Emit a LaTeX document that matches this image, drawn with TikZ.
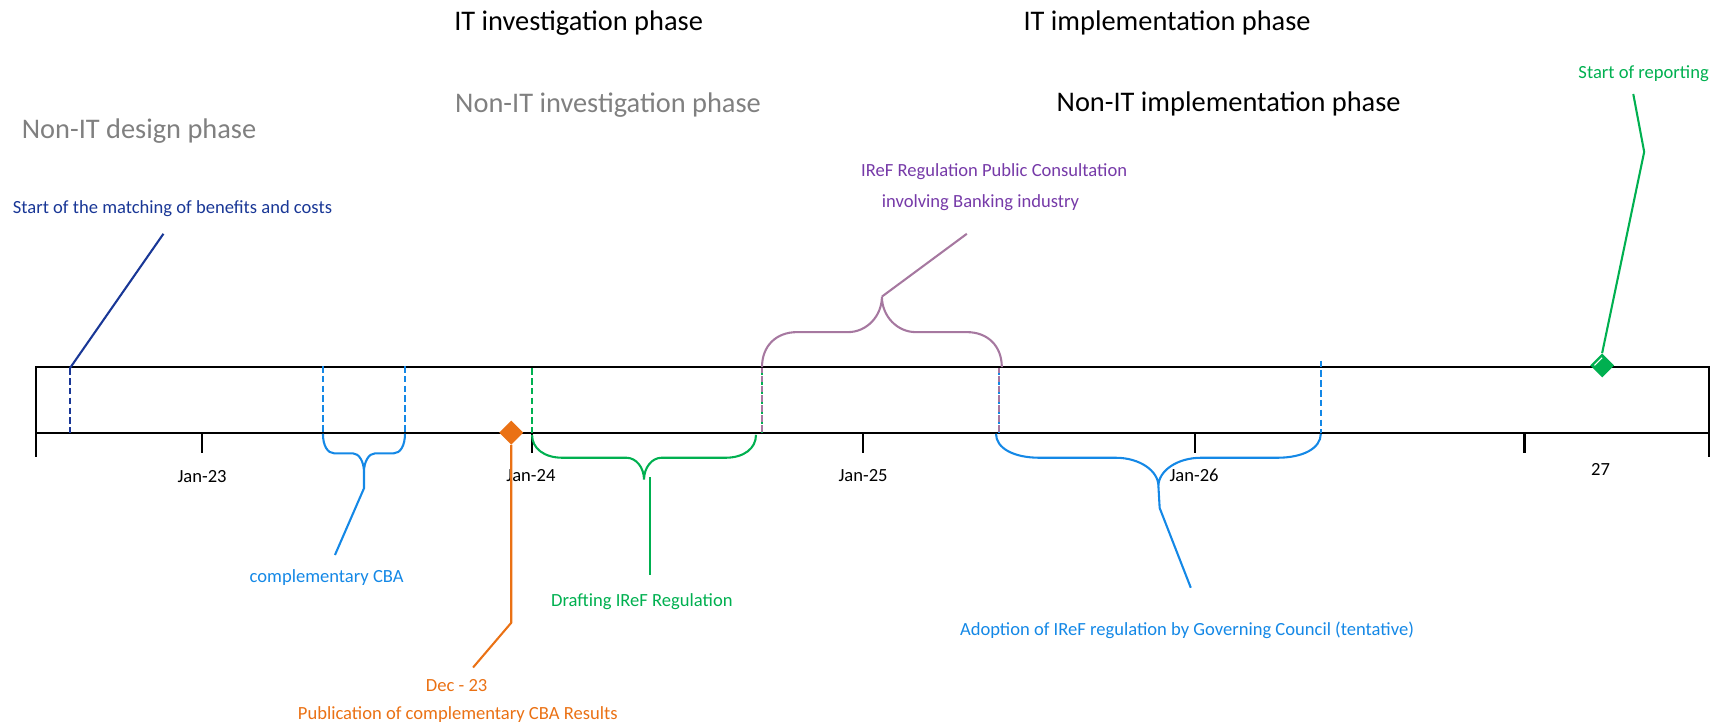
\documentclass[tikz,border=0pt]{standalone}
\usepackage{fontspec}
\setmainfont{Carlito}
\usetikzlibrary{shapes.geometric}
\definecolor{navyc}{RGB}{25,55,150}
\definecolor{bluec}{RGB}{20,136,230}
\definecolor{greenc}{RGB}{0,176,80}
\definecolor{orangec}{RGB}{234,113,20}
\definecolor{purplec}{RGB}{118,58,168}
\definecolor{mauvec}{RGB}{166,120,160}
\definecolor{grayc}{RGB}{128,128,128}
% brace: color, xL, xR, y0, yh, yt, r, r2
\newcommand\mybrace[8]{%
\draw[conn,#1] (#2,#4) .. controls (#2,{#4+0.6*(#5-#4)}) and ({#2+0.4*#7},#5) .. ({#2+#7},#5)
 -- ({(#2+#3)/2-#8},#5) .. controls ({(#2+#3)/2-0.45*#8},#5) and ({(#2+#3)/2},{#5+0.45*(#6-#5)}) .. ({(#2+#3)/2},#6)
 .. controls ({(#2+#3)/2},{#5+0.45*(#6-#5)}) and ({(#2+#3)/2+0.45*#8},#5) .. ({(#2+#3)/2+#8},#5)
 -- ({#3-#7},#5) .. controls ({#3-0.4*#7},#5) and (#3,{#4+0.6*(#5-#4)}) .. (#3,#4);}
\begin{document}
\begin{tikzpicture}[x=1pt,y=-1pt,
  axis/.style={line width=2pt,black},
  conn/.style={line width=1.9pt},
  dashline/.style={line width=2.3pt,dash pattern=on 6pt off 3pt},
  lbl/.style={inner sep=0pt,anchor=base,font=\fontsize{17}{20}\selectfont},
  hdr/.style={inner sep=0pt,anchor=base west,font=\fontsize{26}{30}\selectfont},
  milestone/.style={diamond,aspect=1,inner sep=0pt,minimum width=22pt,minimum height=22pt}]
\useasboundingbox (0,0) rectangle (1568,665);
% headers
\node[hdr] (h1) at (415.6,28) {IT investigation phase};
\node[hdr,text=grayc] (h2) at (416.5,103) {Non-IT investigation phase};
\node[hdr] (h3) at (936.7,28) {IT implementation phase};
\node[hdr] (h4) at (967,102) {Non-IT implementation phase};
\node[hdr,text=grayc] (h5) at (19.8,127) {Non-IT design phase};
% labels
\node[lbl,anchor=base west,text=navyc] (t1) at (11.6,195) {Start of the matching of benefits and costs};
\node[lbl,text=purplec] (t2) at (910,162) {IReF Regulation Public Consultation};
\node[lbl,text=purplec] (t3) at (897.5,189.5) {involving Banking industry};
\node[lbl,text=greenc] (t4) at (1504.5,72) {Start of reporting};
\node[lbl,text=bluec] (t5) at (299,533.5) {complementary CBA};
\node[lbl,text=greenc] (t6) at (587.5,555.5) {Drafting IReF Regulation};
\node[lbl,text=orangec] (t7) at (418,633) {Dec - 23};
\node[lbl,text=orangec] (t8) at (419,659) {Publication of complementary CBA Results};
\node[lbl,text=bluec] (t9) at (1086.5,582) {Adoption of IReF regulation by Governing Council (tentative)};
% axis box
\draw[axis] (33,418) -- (33,336) -- (1564,336) -- (1564,418);
\draw[axis] (33,396.5) -- (1564,396.5);
\foreach \x in {185,487,790,1094,1395.5} \draw[axis] (\x,396.5) -- (\x,415);
\node[lbl] (j23) at (185,441.5) {Jan-23};
\node[lbl] (j24) at (486,441) {Jan-24};
\node[lbl] (j25) at (790,441) {Jan-25};
\node[lbl] (j26) at (1093,441) {Jan-26};
\node[lbl] (y27) at (1465,435) {27};
% coordinates
\coordinate (nvTop) at (149.6,214);
\coordinate (nvBase) at (64,337);
\coordinate (nvBot) at (64,396);
\coordinate (cbaL) at (295.6,335); \coordinate (cbaLb) at (295.6,396);
\coordinate (cbaR) at (370.7,335); \coordinate (cbaRb) at (370.7,396);
\coordinate (cbaTip) at (333.15,432); \coordinate (cbaMid) at (333.15,447); \coordinate (cbaEnd) at (306.6,508);
\coordinate (drL) at (487,337); \coordinate (drLb) at (487,396);
\coordinate (drTop) at (595,437); \coordinate (drEnd) at (595,526);
\coordinate (pcL) at (697.5,337); \coordinate (pcLb) at (697.5,396);
\coordinate (pcR) at (914.5,337); \coordinate (pcRb) at (914.5,396);
\coordinate (pcTip) at (807.25,271.5); \coordinate (pcEnd) at (885,214);
\coordinate (adR) at (1209,330); \coordinate (adRb) at (1209,396);
\coordinate (adTip) at (1060.35,445); \coordinate (adMid) at (1061.5,465); \coordinate (adEnd) at (1090,538);
\coordinate (decBend) at (468,570); \coordinate (decEnd) at (433,611);
\coordinate (repBend) at (1505,139); \coordinate (repEnd) at (1495,86);
% dashed markers
\draw[dashline,navyc] (nvBase) -- (nvBot);
\draw[dashline,bluec] (cbaL) -- (cbaLb);
\draw[dashline,bluec] (cbaR) -- (cbaRb);
\draw[dashline,greenc] (drL) -- (drLb);
\draw[dashline,greenc] (pcL) -- (pcLb);
\draw[dashline,mauvec,dash phase=2pt] (pcL) -- (pcLb);
\draw[dashline,bluec] (pcR) -- (pcRb);
\draw[dashline,mauvec,dash phase=2pt] (pcR) -- (pcRb);
\draw[dashline,bluec] (adR) -- (adRb);
% braces
\mybrace{bluec}{295.6}{370.7}{397}{415}{432}{10.5}{10}
\mybrace{greenc}{487}{692}{398}{419}{439}{28}{16}
\mybrace{mauvec}{697.5}{917}{336}{304}{271.5}{32}{31}
\mybrace{bluec}{911.7}{1209}{397}{419}{445}{40}{39}
% connectors
\draw[conn,navyc] (nvTop) -- (nvBase);
\draw[conn,bluec] (cbaTip) -- (cbaMid) -- (cbaEnd);
\draw[conn,greenc] (drTop) -- (drEnd);
\draw[conn,mauvec] (pcTip) -- (pcEnd);
\draw[conn,bluec] (adTip) -- (adMid) -- (adEnd);
% diamonds
\node[milestone,fill=orangec] (decD) at (468,396) {};
\draw[conn,orangec] (decD.south) -- (decBend) -- (decEnd);
\node[milestone,fill=greenc] (repD) at (1466.5,334.5) {};
\draw[white,line width=1pt] (1459.5,334.5) -- (1466.5,327.5);
\draw[conn,greenc] (repD.north) -- (repBend) -- (repEnd);
\end{tikzpicture}
\end{document}
